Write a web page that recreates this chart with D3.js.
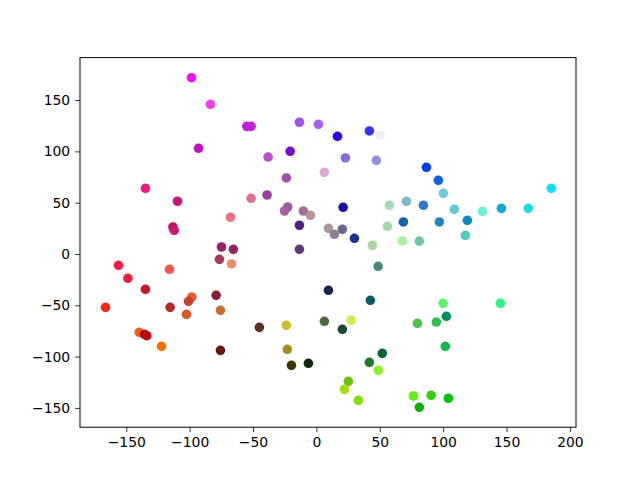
<!DOCTYPE html>
<html>
<head>
<meta charset="utf-8">
<script src="https://cdn.jsdelivr.net/npm/d3@7"></script>
<style>
  html, body { margin: 0; padding: 0; background: #fff; }
  svg text { font-family: "DejaVu Sans", sans-serif; }
</style>
</head>
<body>
<svg id="chart" width="640" height="480"></svg>
<script>
const xValues = [
  -98.6, -83.6, -54.9, -51.5, -93.0, -134.9, -109.6, -51.5, -67.8, -113.2, -112.2,
  -13.4, 1.6, 16.6, 41.8, 50.2, -20.7, -38.1, 22.9, 47.3, 6.3, -23.7, -38.9, -22.6, -25.2,
  -10.3, -4.7, 21.1, -13.4, 9.5, 14.2, 20.5, 30.0, 44.2, 57.6, 71.0, 56.0, 68.6, 67.8,
  86.8, 96.2, 100.2, 84.4, 108.8, 130.9, 145.9, 167.2, 185.3, 97.0, 119.1, 117.5, 81.2,
  -74.9, -65.5, -76.5, -67.0, -156.1, -148.7, -115.9, -134.9, -166.4, -115.4, -98.3, -100.9,
  -102.5, -79.1, -75.7, -139.8, -135.6, -133.8, -122.2, -75.7,
  -13.4, 48.7, 9.5, 42.6, -45.0, -23.7, 6.3, 27.4, 20.5, -22.9, -19.7, -6.3, 52.0, 41.8,
  48.9, 25.2, 22.1, 33.1, 79.7, 76.5,
  99.9, 145.1, 94.6, 102.5, 101.7, 90.5, 81.2, 104.1
];
const yValues = [
  171.8, 145.9, 124.4, 124.4, 103.0, 64.0, 51.4, 54.3, 35.8, 26.3, 23.1,
  128.4, 126.4, 114.7, 119.9, 115.7, 100.1, 94.5, 93.6, 91.3, 79.6, 74.1, 57.5, 45.8, 41.9,
  41.9, 37.7, 45.5, 28.0, 25.0, 19.2, 24.1, 15.3, 8.5, 47.5, 51.4, 27.0, 31.2, 12.7,
  84.5, 71.8, 59.2, 47.5, 43.6, 41.6, 44.5, 44.5, 64.0, 31.2, 32.8, 18.2, 12.5,
  6.8, 4.6, -5.2, -9.7, -11.0, -23.7, -14.9, -34.4, -52.0, -52.0, -41.9, -46.1,
  -58.8, -40.3, -54.9, -76.3, -78.3, -79.6, -90.0, -93.9,
  4.6, -12.0, -35.4, -45.1, -71.5, -69.5, -65.6, -64.7, -73.4, -92.9, -108.5, -106.5, -96.8, -105.6,
  -113.4, -124.1, -131.9, -142.6, -67.5, -138.4,
  -48.1, -48.1, -66.3, -60.7, -90.0, -137.7, -149.4, -140.6
];
const pointColors = [
  "#ee12ee", "#f03de8", "#b51ed8", "#c020d0", "#c010c0", "#ee1a7a", "#c8177a", "#e07090", "#ee7080", "#c01060", "#c81870",
  "#a050ee", "#a860f0", "#3000e0", "#3a30f0", "#eeeeff", "#7010c8", "#b850c8", "#8a6ad8", "#9090e0", "#d8a8d0", "#a050b0", "#984098", "#a05898", "#a860a0",
  "#a07098", "#b89098", "#1810a0", "#502088", "#a89898", "#888090", "#6a6890", "#203090", "#a8d8a0", "#a8d8c0", "#80b8c8", "#a0d8b0", "#1860b0", "#a8f0a0",
  "#0040e0", "#1060e0", "#70c8d8", "#3078c8", "#60c8d0", "#70f0d0", "#10a8d0", "#20d8e0", "#10e0f8", "#2088b8", "#1088c0", "#50d0b0", "#70c8a0",
  "#982070", "#902868", "#a83858", "#e89070", "#f02048", "#e82040", "#f05850", "#c81830", "#f82818", "#b02828", "#e06030", "#c84030",
  "#d85828", "#882038", "#c87030", "#f06010", "#a80808", "#b81010", "#f07000", "#601808",
  "#603880", "#4a8880", "#182050", "#105860", "#603020", "#d0b830", "#506840", "#c8f050", "#184830", "#a09020", "#383800", "#102810", "#006830", "#207828",
  "#90f030", "#70c010", "#a0e010", "#80e000", "#50c050", "#60f010",
  "#60f070", "#30f080", "#30c050", "#009060", "#10b840", "#30d010", "#10b000", "#00c010"
];
const xTicks = [-150, -100, -50, 0, 50, 100, 150, 200];
const yTicks = [-150, -100, -50, 0, 50, 100, 150];

const margin = {left: 80, top: 57.6, right: 64, bottom: 52.8};
const W = 640, H = 480;
const iw = W - margin.left - margin.right;
const ih = H - margin.top - margin.bottom;

const svg = d3.select("#chart");
const g = svg.append("g").attr("transform", `translate(${margin.left},${margin.top})`);

const x = d3.scaleLinear().domain([-186.5, 204.8]).range([0, iw]);
const y = d3.scaleLinear().domain([-168.8, 191.4]).range([ih, 0]);

const fmt = d => d < 0 ? "\u2212" + Math.abs(d) : String(d);

const data = xValues.map((v, i) => ({x: v, y: yValues[i], c: pointColors[i]}));

g.selectAll("circle.pt").data(data).enter().append("circle")
  .attr("class", "pt")
  .attr("cx", d => x(d.x))
  .attr("cy", d => y(d.y))
  .attr("r", 4.8)
  .attr("fill", d => d.c);

const xAxis = g.append("g").attr("transform", `translate(0,${ih})`)
  .call(d3.axisBottom(x).tickValues(xTicks).tickFormat(fmt).tickSize(4.9).tickPadding(4.9).tickSizeOuter(0));
const yAxis = g.append("g")
  .call(d3.axisLeft(y).tickValues(yTicks).tickFormat(fmt).tickSize(4.9).tickPadding(4.9).tickSizeOuter(0));

[xAxis, yAxis].forEach(a => {
  a.select(".domain").remove();
  a.selectAll(".tick line").attr("stroke", "#000").attr("stroke-width", 0.8);
  a.selectAll(".tick text").attr("fill", "#000").style("font-size", "13.9px").style("font-family", "DejaVu Sans, sans-serif");
});

g.append("rect").attr("x", 0).attr("y", 0).attr("width", iw).attr("height", ih)
  .attr("fill", "none").attr("stroke", "#000").attr("stroke-width", 1);
</script>
</body>
</html>
